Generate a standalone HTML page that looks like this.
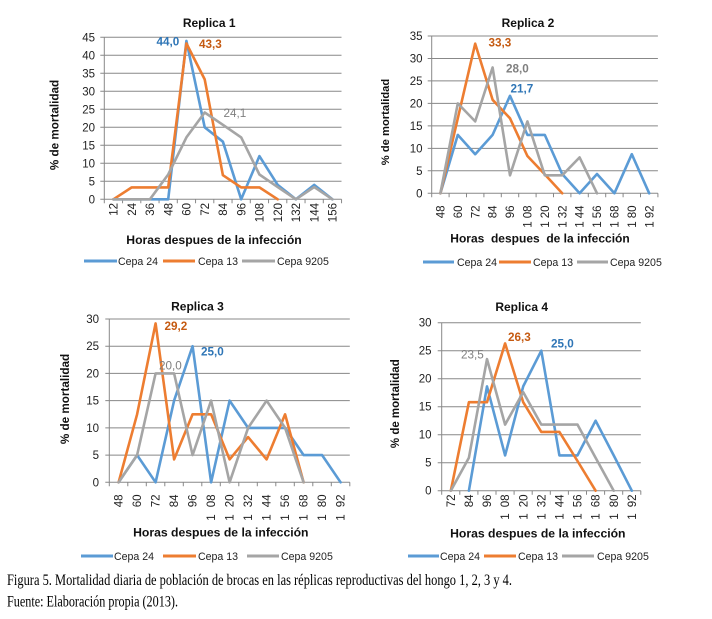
<!DOCTYPE html>
<html><head><meta charset="utf-8"><style>
html,body{margin:0;padding:0;background:#fff;}
svg{display:block;}
</style></head><body>
<svg width="712" height="619" viewBox="0 0 712 619" xmlns="http://www.w3.org/2000/svg" font-family="Liberation Sans, Arial, sans-serif">
<rect width="712" height="619" fill="#fff"/>

<!-- ================= CHART 1 ================= -->
<g stroke="#888" stroke-width="1" fill="none">
<path d="M100.3 181.3H341.5M100.3 163.3H341.5M100.3 145.3H341.5M100.3 127.3H341.5M100.3 109.3H341.5M100.3 91.3H341.5M100.3 73.3H341.5M100.3 55.3H341.5M100.3 37.3H341.5"/>
<path d="M100.3 199.3H341.5M104.3 37.3V199.3"/>
<path d="M104.3 199.3v4M122.55 199.3v4M140.8 199.3v4M159.05 199.3v4M177.3 199.3v4M195.55 199.3v4M213.8 199.3v4M232.05 199.3v4M250.3 199.3v4M268.55 199.3v4M286.8 199.3v4M305.05 199.3v4M323.3 199.3v4M341.55 199.3v4"/>
</g>
<g font-size="11.5" fill="#222" text-anchor="end">
<text x="95" y="203.3">0</text><text x="95" y="185.3">5</text><text x="95" y="167.3">10</text><text x="95" y="149.3">15</text><text x="95" y="131.3">20</text><text x="95" y="113.3">25</text><text x="95" y="95.3">30</text><text x="95" y="77.3">35</text><text x="95" y="59.3">40</text><text x="95" y="41.3">45</text>
</g>
<g font-size="11.5" fill="#222" text-anchor="end">
<text transform="translate(113.4,203) rotate(-90)" dy="0.36em">12</text>
<text transform="translate(131.7,203) rotate(-90)" dy="0.36em">24</text>
<text transform="translate(149.9,203) rotate(-90)" dy="0.36em">36</text>
<text transform="translate(168.2,203) rotate(-90)" dy="0.36em">48</text>
<text transform="translate(186.4,203) rotate(-90)" dy="0.36em">60</text>
<text transform="translate(204.7,203) rotate(-90)" dy="0.36em">72</text>
<text transform="translate(222.9,203) rotate(-90)" dy="0.36em">84</text>
<text transform="translate(241.2,203) rotate(-90)" dy="0.36em">96</text>
<text transform="translate(259.4,203) rotate(-90)" dy="0.36em">108</text>
<text transform="translate(277.7,203) rotate(-90)" dy="0.36em">120</text>
<text transform="translate(295.9,203) rotate(-90)" dy="0.36em">132</text>
<text transform="translate(314.2,203) rotate(-90)" dy="0.36em">144</text>
<text transform="translate(332.4,203) rotate(-90)" dy="0.36em">156</text>
</g>
<g fill="none" stroke-width="2.6" stroke-linejoin="round" stroke-linecap="round">
<polyline stroke="#5B9BD5" points="113.4,199.3 131.7,199.3 149.9,199.3 168.2,199.3 186.4,40.9 204.7,127.3 222.9,141.7 241.2,199.3 259.4,156.1 277.7,184.9 295.9,199.3 314.2,184.9 332.4,199.3"/>
<polyline stroke="#ED7D31" points="113.4,199.3 131.7,187.4 149.9,187.4 168.2,187.4 186.4,43.4 204.7,79.4 222.9,175.2 241.2,187.4 259.4,187.4 277.7,199.3"/>
<polyline stroke="#A5A5A5" points="113.4,199.3 131.7,199.3 149.9,199.3 168.2,174.5 186.4,137.4 204.7,112.5 222.9,124.8 241.2,137.4 259.4,174.5 277.7,187.1 295.9,199.3 314.2,187.1 332.4,199.3"/>
</g>
<g font-size="11.7" font-weight="bold">
<text x="156.5" y="45.5" fill="#2E75B6">44,0</text>
<text x="199" y="48" fill="#C55A11">43,3</text>
<text x="223.5" y="117" fill="#7F7F7F" font-weight="normal">24,1</text>
</g>
<text x="209.2" y="27" font-size="12" font-weight="bold" text-anchor="middle" fill="#111">Replica 1</text>
<text transform="translate(58.3,125) rotate(-90)" font-size="11.7" font-weight="bold" text-anchor="middle" fill="#111">% de mortalidad</text>
<text x="214" y="244" font-size="12.2" font-weight="bold" text-anchor="middle" fill="#111">Horas despues de la infección</text>
<g stroke-width="3">
<line x1="84" y1="261" x2="117" y2="261" stroke="#5B9BD5"/>
<line x1="163" y1="261" x2="195" y2="261" stroke="#ED7D31"/>
<line x1="242" y1="261" x2="275" y2="261" stroke="#A5A5A5"/>
</g>
<g font-size="10.6" fill="#222">
<text x="118" y="265">Cepa 24</text><text x="198" y="265">Cepa 13</text><text x="277" y="265">Cepa 9205</text>
</g>

<!-- ================= CHART 2 ================= -->
<g stroke="#888" stroke-width="1" fill="none">
<path d="M427.7 170.8H657.9M427.7 148.4H657.9M427.7 125.9H657.9M427.7 103.4H657.9M427.7 80.9H657.9M427.7 58.5H657.9M427.7 36H657.9"/>
<path d="M427.7 193.3H657.9M431.7 36V193.3"/>
<path d="M431.7 193.3v4M449.1 193.3v4M466.5 193.3v4M483.9 193.3v4M501.3 193.3v4M518.7 193.3v4M536.1 193.3v4M553.5 193.3v4M570.9 193.3v4M588.3 193.3v4M605.7 193.3v4M623.1 193.3v4M640.5 193.3v4M657.9 193.3v4"/>
</g>
<g font-size="11.5" fill="#222" text-anchor="end">
<text x="422.5" y="197.3">0</text><text x="422.5" y="174.8">5</text><text x="422.5" y="152.4">10</text><text x="422.5" y="129.9">15</text><text x="422.5" y="107.4">20</text><text x="422.5" y="84.9">25</text><text x="422.5" y="62.5">30</text><text x="422.5" y="40">35</text>
</g>
<g font-size="11.5" fill="#222" text-anchor="end">
<text transform="translate(440.4,205.5) rotate(-90)" dy="0.36em">48</text>
<text transform="translate(457.8,205.5) rotate(-90)" dy="0.36em">60</text>
<text transform="translate(475.2,205.5) rotate(-90)" dy="0.36em">72</text>
<text transform="translate(492.6,205.5) rotate(-90)" dy="0.36em">84</text>
<text transform="translate(510,205.5) rotate(-90)" dy="0.36em">96</text>
<text transform="translate(527.4,205.5) rotate(-90)" dy="0.36em">1<tspan dx="3">08</tspan></text>
<text transform="translate(544.8,205.5) rotate(-90)" dy="0.36em">1<tspan dx="3">20</tspan></text>
<text transform="translate(562.2,205.5) rotate(-90)" dy="0.36em">1<tspan dx="3">32</tspan></text>
<text transform="translate(579.6,205.5) rotate(-90)" dy="0.36em">1<tspan dx="3">44</tspan></text>
<text transform="translate(597,205.5) rotate(-90)" dy="0.36em">1<tspan dx="3">56</tspan></text>
<text transform="translate(614.4,205.5) rotate(-90)" dy="0.36em">1<tspan dx="3">68</tspan></text>
<text transform="translate(631.8,205.5) rotate(-90)" dy="0.36em">1<tspan dx="3">80</tspan></text>
<text transform="translate(649.2,205.5) rotate(-90)" dy="0.36em">1<tspan dx="3">92</tspan></text>
</g>
<g fill="none" stroke-width="2.6" stroke-linejoin="round" stroke-linecap="round">
<polyline stroke="#5B9BD5" points="440.4,193.3 457.8,134.9 475.2,154.2 492.6,134.9 510,95.8 527.4,134.9 544.8,134.9 562.2,174 579.6,193.3 597,174 614.4,193.3 631.8,154.2 649.2,193.3"/>
<polyline stroke="#ED7D31" points="440.4,193.3 457.8,118.3 475.2,43.7 492.6,99.8 510,118.3 527.4,156 544.8,174.4 562.2,193.3"/>
<polyline stroke="#A5A5A5" points="440.4,193.3 457.8,103.4 475.2,121.4 492.6,67.5 510,175.3 527.4,121.4 544.8,175.3 562.2,175.3 579.6,157.4 597,193.3"/>
</g>
<g font-size="11.7" font-weight="bold">
<text x="488.5" y="46.5" fill="#C55A11">33,3</text>
<text x="506" y="72.5" fill="#7F7F7F">28,0</text>
<text x="510.5" y="92.5" fill="#2E75B6">21,7</text>
</g>
<text x="528" y="27" font-size="12" font-weight="bold" text-anchor="middle" fill="#111">Replica 2</text>
<text transform="translate(389,122) rotate(-90)" font-size="11.2" font-weight="bold" text-anchor="middle" fill="#111">% de mortalidad</text>
<text x="540" y="242.5" font-size="12" font-weight="bold" text-anchor="middle" fill="#111" xml:space="preserve">Horas  despues  de la infección</text>
<g stroke-width="3">
<line x1="423" y1="262" x2="454" y2="262" stroke="#5B9BD5"/>
<line x1="499" y1="262" x2="531" y2="262" stroke="#ED7D31"/>
<line x1="577" y1="262" x2="608" y2="262" stroke="#A5A5A5"/>
</g>
<g font-size="10.6" fill="#222">
<text x="457" y="266">Cepa 24</text><text x="533" y="266">Cepa 13</text><text x="610" y="266">Cepa 9205</text>
</g>

<!-- ================= CHART 3 ================= -->
<g stroke="#888" stroke-width="1" fill="none">
<path d="M105.3 455.1H349.8M105.3 427.9H349.8M105.3 400.6H349.8M105.3 373.4H349.8M105.3 346.2H349.8M105.3 319H349.8"/>
<path d="M105.3 482.3H349.8M109.3 319V482.3"/>
<path d="M109.3 482.3v4M127.8 482.3v4M146.3 482.3v4M164.8 482.3v4M183.3 482.3v4M201.8 482.3v4M220.3 482.3v4M238.8 482.3v4M257.3 482.3v4M275.8 482.3v4M294.3 482.3v4M312.8 482.3v4M331.3 482.3v4M349.8 482.3v4"/>
</g>
<g font-size="11.5" fill="#222" text-anchor="end">
<text x="99" y="486.3">0</text><text x="99" y="459.1">5</text><text x="99" y="431.9">10</text><text x="99" y="404.6">15</text><text x="99" y="377.4">20</text><text x="99" y="350.2">25</text><text x="99" y="323">30</text>
</g>
<g font-size="11.5" fill="#222" text-anchor="end">
<text transform="translate(118.6,494.5) rotate(-90)" dy="0.36em">48</text>
<text transform="translate(137.1,494.5) rotate(-90)" dy="0.36em">60</text>
<text transform="translate(155.6,494.5) rotate(-90)" dy="0.36em">72</text>
<text transform="translate(174.1,494.5) rotate(-90)" dy="0.36em">84</text>
<text transform="translate(192.6,494.5) rotate(-90)" dy="0.36em">96</text>
<text transform="translate(211.1,494.5) rotate(-90)" dy="0.36em">1<tspan dx="7">08</tspan></text>
<text transform="translate(229.6,494.5) rotate(-90)" dy="0.36em">1<tspan dx="7">20</tspan></text>
<text transform="translate(248.1,494.5) rotate(-90)" dy="0.36em">1<tspan dx="7">32</tspan></text>
<text transform="translate(266.6,494.5) rotate(-90)" dy="0.36em">1<tspan dx="7">44</tspan></text>
<text transform="translate(285.1,494.5) rotate(-90)" dy="0.36em">1<tspan dx="7">56</tspan></text>
<text transform="translate(303.6,494.5) rotate(-90)" dy="0.36em">1<tspan dx="7">68</tspan></text>
<text transform="translate(322.1,494.5) rotate(-90)" dy="0.36em">1<tspan dx="7">80</tspan></text>
<text transform="translate(340.6,494.5) rotate(-90)" dy="0.36em">1<tspan dx="7">92</tspan></text>
</g>
<g fill="none" stroke-width="2.6" stroke-linejoin="round" stroke-linecap="round">
<polyline stroke="#5B9BD5" points="118.6,482.3 137.1,455.1 155.6,482.3 174.1,400.6 192.6,346.2 211.1,482.3 229.6,400.6 248.1,427.9 266.6,427.9 285.1,427.9 303.6,455.1 322.1,455.1 340.6,482.3"/>
<polyline stroke="#ED7D31" points="118.6,482.3 137.1,414.3 155.6,323.4 174.1,459.4 192.6,414.3 211.1,414.3 229.6,459.4 248.1,437.1 266.6,459.4 285.1,414.3 303.6,482.3"/>
<polyline stroke="#A5A5A5" points="118.6,482.3 137.1,455.1 155.6,373.4 174.1,373.4 192.6,455.1 211.1,400.6 229.6,482.3 248.1,427.9 266.6,400.6 285.1,427.9 303.6,482.3"/>
</g>
<g font-size="11.7" font-weight="bold">
<text x="164.5" y="330" fill="#C55A11">29,2</text>
<text x="201" y="355.5" fill="#2E75B6">25,0</text>
<text x="159" y="369.5" fill="#7F7F7F" font-weight="normal">20,0</text>
</g>
<text x="197.5" y="310.5" font-size="12" font-weight="bold" text-anchor="middle" fill="#111">Replica 3</text>
<text transform="translate(69,399) rotate(-90)" font-size="11.7" font-weight="bold" text-anchor="middle" fill="#111">% de mortalidad</text>
<text x="220.8" y="536.5" font-size="12.2" font-weight="bold" text-anchor="middle" fill="#111">Horas despues de la infección</text>
<g stroke-width="3">
<line x1="81" y1="556" x2="113" y2="556" stroke="#5B9BD5"/>
<line x1="163" y1="556" x2="196" y2="556" stroke="#ED7D31"/>
<line x1="247" y1="556" x2="279" y2="556" stroke="#A5A5A5"/>
</g>
<g font-size="10.6" fill="#222">
<text x="114" y="560">Cepa 24</text><text x="198" y="560">Cepa 13</text><text x="281" y="560">Cepa 9205</text>
</g>

<!-- ================= CHART 4 ================= -->
<g stroke="#888" stroke-width="1" fill="none">
<path d="M437.7 462.7H640.8M437.7 434.7H640.8M437.7 406.7H640.8M437.7 378.7H640.8M437.7 350.7H640.8M437.7 322.7H640.8"/>
<path d="M437.7 490.7H640.8M441.7 322.7V490.7"/>
<path d="M441.7 490.7v4M459.8 490.7v4M477.9 490.7v4M496 490.7v4M514.1 490.7v4M532.2 490.7v4M550.3 490.7v4M568.4 490.7v4M586.5 490.7v4M604.6 490.7v4M622.7 490.7v4M640.8 490.7v4"/>
</g>
<g font-size="11.5" fill="#222" text-anchor="end">
<text x="431.5" y="494.7">0</text><text x="431.5" y="466.7">5</text><text x="431.5" y="438.7">10</text><text x="431.5" y="410.7">15</text><text x="431.5" y="382.7">20</text><text x="431.5" y="354.7">25</text><text x="431.5" y="326.7">30</text>
</g>
<g font-size="11.5" fill="#222" text-anchor="end">
<text transform="translate(450.8,494.5) rotate(-90)" dy="0.36em">72</text>
<text transform="translate(468.9,494.5) rotate(-90)" dy="0.36em">84</text>
<text transform="translate(487,494.5) rotate(-90)" dy="0.36em">96</text>
<text transform="translate(505.1,494.5) rotate(-90)" dy="0.36em">1<tspan dx="6">08</tspan></text>
<text transform="translate(523.2,494.5) rotate(-90)" dy="0.36em">1<tspan dx="6">20</tspan></text>
<text transform="translate(541.3,494.5) rotate(-90)" dy="0.36em">1<tspan dx="6">32</tspan></text>
<text transform="translate(559.4,494.5) rotate(-90)" dy="0.36em">1<tspan dx="6">44</tspan></text>
<text transform="translate(577.5,494.5) rotate(-90)" dy="0.36em">1<tspan dx="6">56</tspan></text>
<text transform="translate(595.6,494.5) rotate(-90)" dy="0.36em">1<tspan dx="6">68</tspan></text>
<text transform="translate(613.7,494.5) rotate(-90)" dy="0.36em">1<tspan dx="6">80</tspan></text>
<text transform="translate(631.8,494.5) rotate(-90)" dy="0.36em">1<tspan dx="6">92</tspan></text>
</g>
<g fill="none" stroke-width="2.6" stroke-linejoin="round" stroke-linecap="round">
<polyline stroke="#5B9BD5" points="468.9,490.7 487,386.4 505.1,455.4 523.2,386.4 541.3,350.7 559.4,455.4 577.5,455.4 595.6,420.7 613.7,455.4 631.8,490.7"/>
<polyline stroke="#ED7D31" points="450.8,490.7 468.9,402.2 487,402.2 505.1,343.4 523.2,402.2 541.3,431.9 559.4,431.9 577.5,461 595.6,490.7"/>
<polyline stroke="#A5A5A5" points="450.8,490.7 468.9,457.7 487,359.1 505.1,424.6 523.2,392.1 541.3,424.6 559.4,424.6 577.5,424.6 595.6,457.7 613.7,490.7"/>
</g>
<g font-size="11.7" font-weight="bold">
<text x="508" y="341" fill="#C55A11">26,3</text>
<text x="551" y="347.5" fill="#2E75B6">25,0</text>
<text x="461" y="358.5" fill="#7F7F7F" font-weight="normal">23,5</text>
</g>
<text x="521.7" y="311" font-size="12" font-weight="bold" text-anchor="middle" fill="#111">Replica 4</text>
<text transform="translate(399,403.7) rotate(-90)" font-size="11.5" font-weight="bold" text-anchor="middle" fill="#111">% de mortalidad</text>
<text x="537.8" y="537.5" font-size="12.2" font-weight="bold" text-anchor="middle" fill="#111">Horas despues de la infección</text>
<g stroke-width="3">
<line x1="408" y1="556" x2="439" y2="556" stroke="#5B9BD5"/>
<line x1="484" y1="556" x2="516" y2="556" stroke="#ED7D31"/>
<line x1="562" y1="556" x2="594" y2="556" stroke="#A5A5A5"/>
</g>
<g font-size="10.6" fill="#222">
<text x="440" y="560">Cepa 24</text><text x="518" y="560">Cepa 13</text><text x="597" y="560">Cepa 9205</text>
</g>

<!-- ================= CAPTION ================= -->
<g font-family="Liberation Serif, Times New Roman, serif" font-size="16" fill="#000">
<text x="7" y="585" textLength="505" lengthAdjust="spacingAndGlyphs">Figura 5. Mortalidad diaria de población de brocas en las réplicas reproductivas del hongo 1, 2, 3 y 4.</text>
<text x="7" y="606.5" textLength="171" lengthAdjust="spacingAndGlyphs">Fuente: Elaboración propia (2013).</text>
</g>
</svg>
</body></html>
